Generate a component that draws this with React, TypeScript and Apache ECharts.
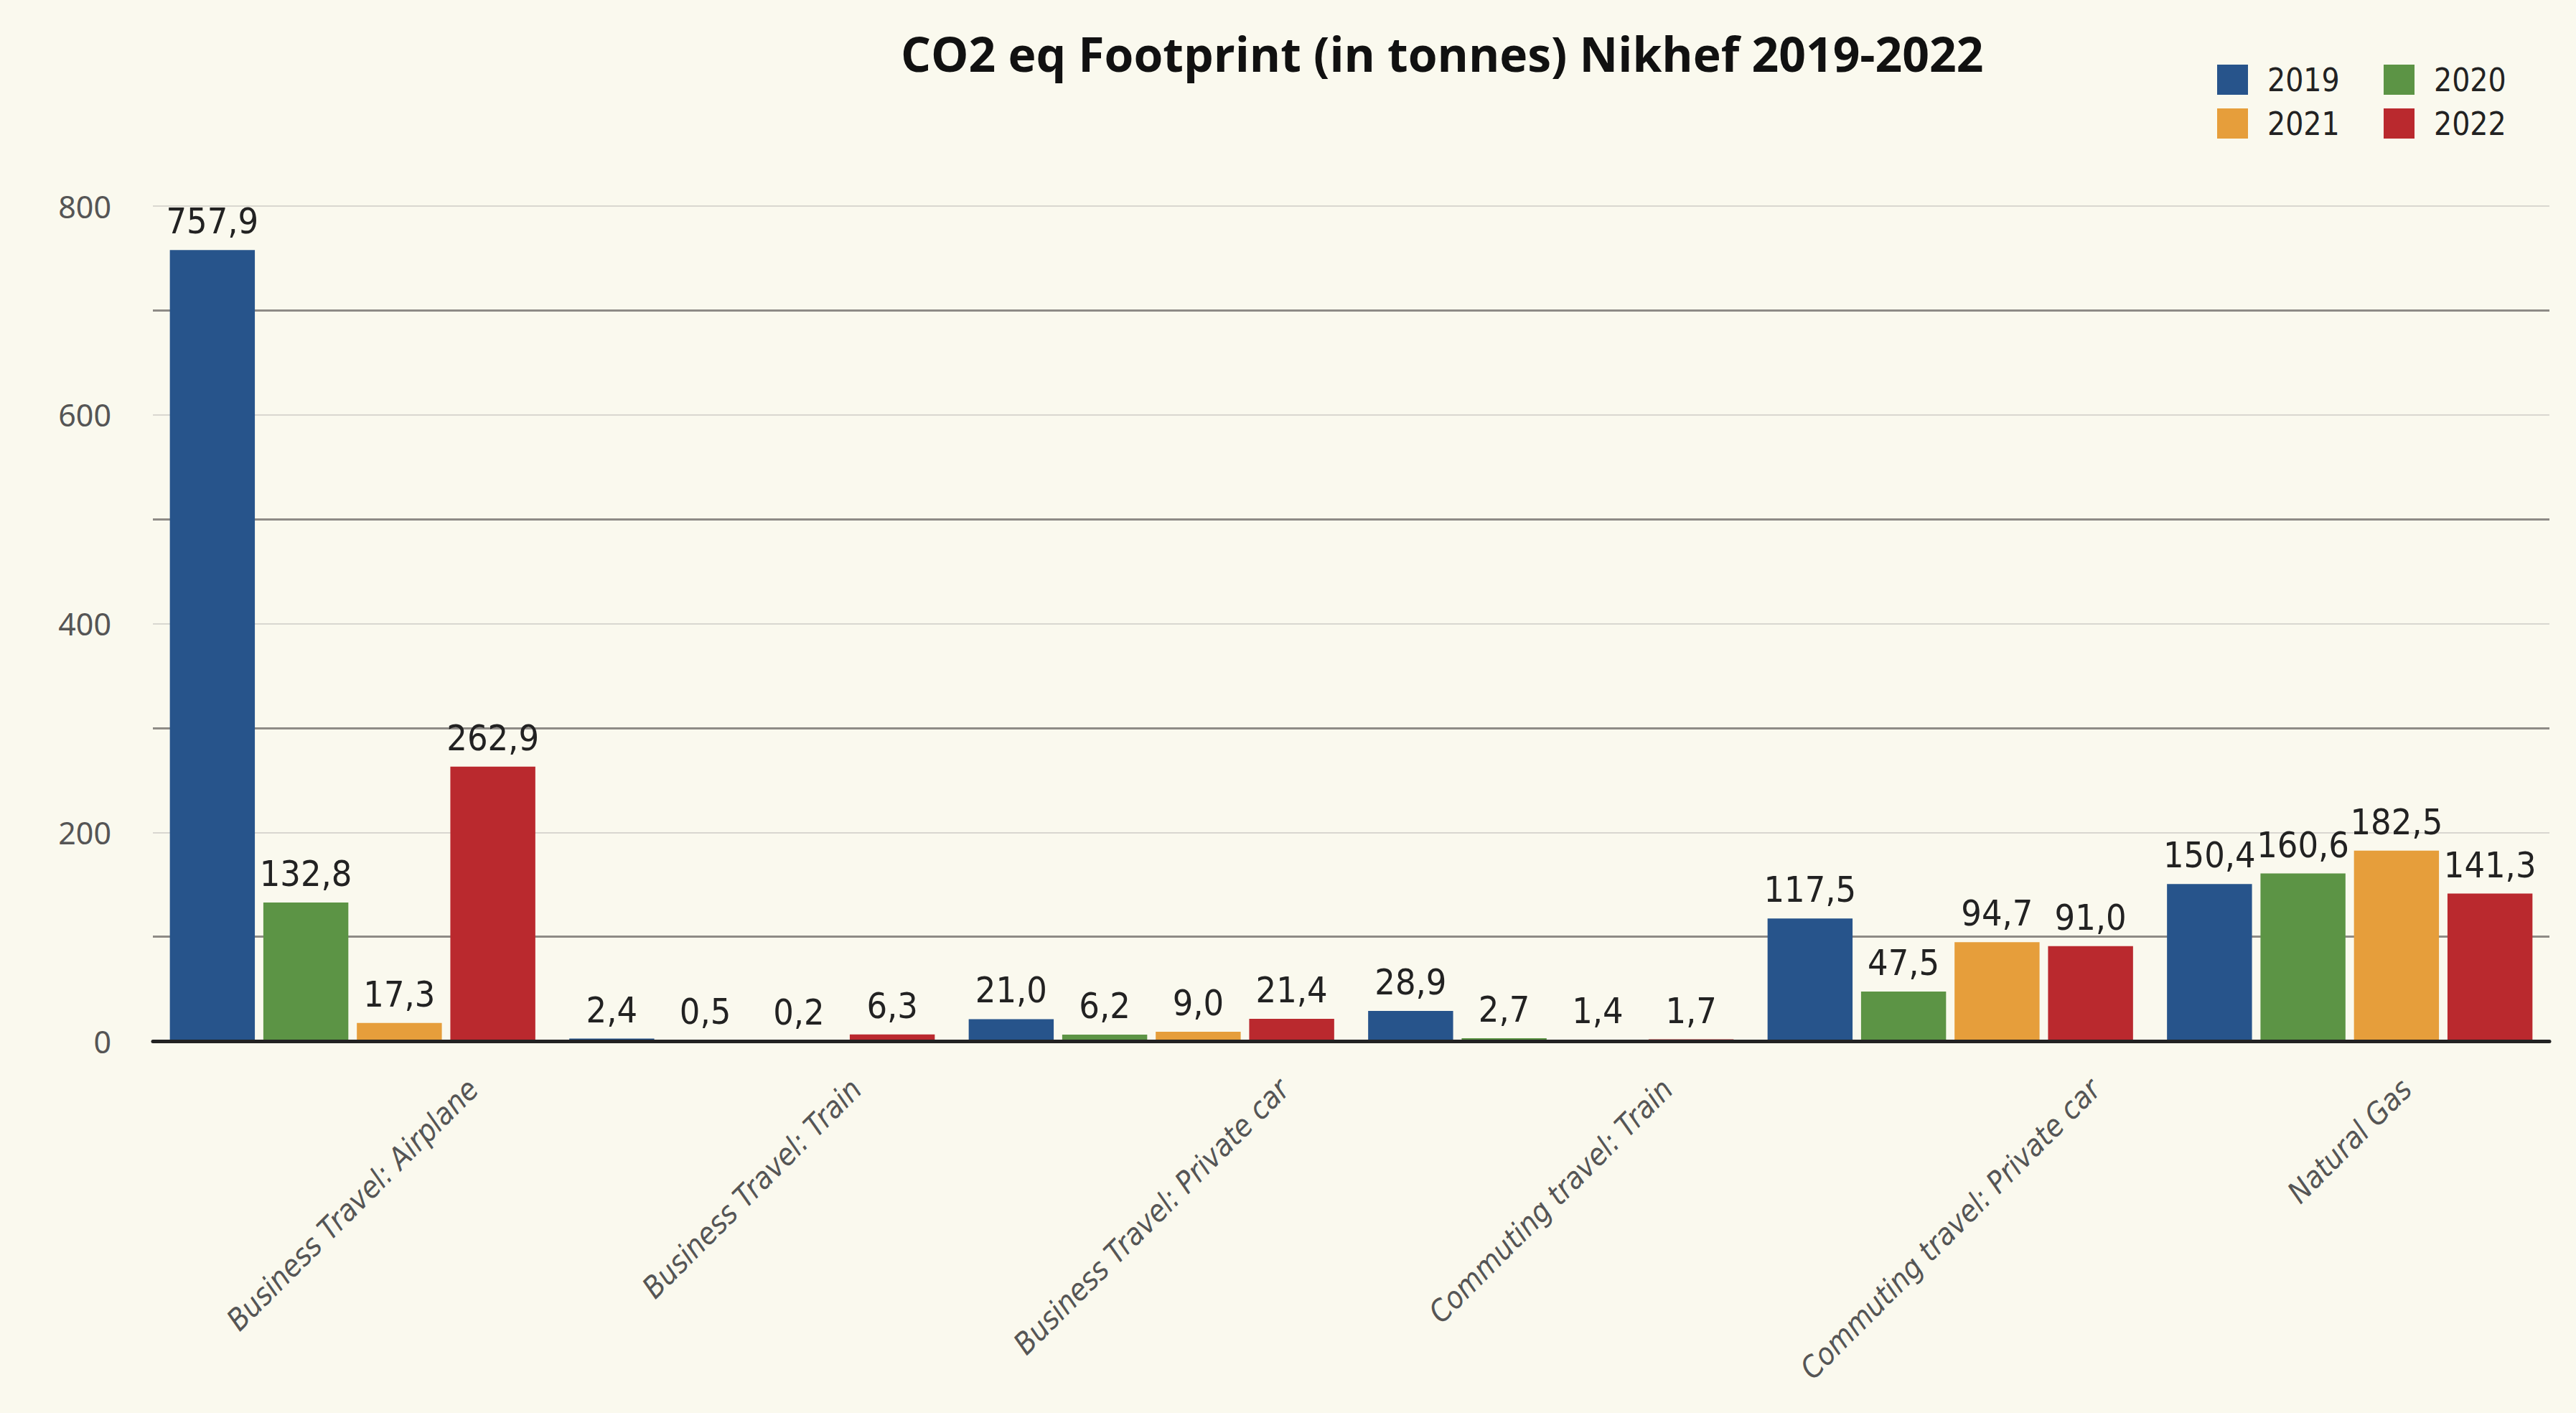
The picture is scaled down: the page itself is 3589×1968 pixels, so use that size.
import React, { useEffect, useRef } from "react";
import * as echarts from "echarts";

const categories = [
  "Business Travel: Airplane",
  "Business Travel: Train",
  "Business Travel: Private car",
  "Commuting travel: Train",
  "Commuting travel: Private car",
  "Natural Gas",
];
const seriesNames = ["2019", "2020", "2021", "2022"];
const values2019 = [757.9, 2.4, 21.0, 28.9, 117.5, 150.4];
const values2020 = [132.8, 0.5, 6.2, 2.7, 47.5, 160.6];
const values2021 = [17.3, 0.2, 9.0, 1.4, 94.7, 182.5];
const values2022 = [262.9, 6.3, 21.4, 1.7, 91.0, 141.3];
const yMin = 0;
const yMax = 800;
const yLabelStep = 200;
const yGridStep = 100;
const titleText = "CO2 eq Footprint (in tonnes) Nikhef 2019-2022";

const colors = ["#27548B", "#5C9445", "#E69E3B", "#BA292E"];
const bg = "#FAF9EE";
const condensed = '"DejaVu Sans Condensed", "DejaVu Sans", sans-serif';
const catFontSize = 42;

function measure(text: string, font: string): number {
  const c = document.createElement("canvas").getContext("2d");
  if (!c) return text.length * catFontSize * 0.5;
  c.font = font;
  return c.measureText(text).width;
}

export default function App() {
  const ref = useRef<HTMLDivElement>(null);
  useEffect(() => {
    if (!ref.current) return;
    const chart = echarts.init(ref.current, undefined, { renderer: "svg" });
    const allValues = [values2019, values2020, values2021, values2022];
    const rich: Record<string, any> = {};
    categories.forEach((c, i) => {
      const L = measure(c, `italic ${catFontSize}px ${condensed}`);
      rich["c" + i] = {
        padding: [L / 2, L / 2, 0, 0],
        fontSize: catFontSize,
        fontStyle: "italic",
        fontFamily: condensed,
        color: "#555",
      };
    });
    const legendCommon = {
      orient: "vertical",
      top: 84,
      itemWidth: 43,
      itemHeight: 42,
      itemGap: 17,
      icon: "rect",
      selectedMode: false,
      textStyle: {
        fontSize: 44,
        fontFamily: condensed,
        color: "#222",
        padding: [0, 0, 0, 22],
      },
    };
    chart.setOption({
      animation: false,
      backgroundColor: bg,
      title: {
        text: titleText,
        left: 1250,
        top: 36,
        textStyle: {
          fontFamily: '"Open Sans", sans-serif',
          fontWeight: "bold",
          fontSize: 66,
          color: "#111",
        },
      },
      legend: [
        { ...legendCommon, left: 3084, data: ["2019", "2021"] },
        { ...legendCommon, left: 3316, data: ["2020", "2022"] },
      ],
      grid: {
        left: 213,
        right: 37,
        top: 287,
        bottom: 518,
        containLabel: false,
        outerBoundsMode: "none",
      },
      xAxis: {
        type: "category",
        data: categories,
        z: 5,
        axisLine: { show: true, lineStyle: { color: "#222", width: 5 } },
        axisTick: { show: false },
        axisLabel: {
          interval: 0,
          rotate: 45,
          align: "center",
          verticalAlign: "middle",
          margin: 60,
          formatter: (v: string, i: number) => `{c${i}|${v}}`,
          rich,
        },
      },
      yAxis: [
        {
          type: "value",
          min: yMin,
          max: yMax,
          interval: yLabelStep,
          axisLine: { show: false },
          axisTick: { show: false },
          axisLabel: {
            fontSize: 43,
            fontFamily: '"Noto Sans", sans-serif',
            color: "#555",
            margin: 58,
          },
          splitLine: { show: true, lineStyle: { color: "#d9d7d0", width: 2 } },
        },
        {
          type: "value",
          min: yMin,
          max: yMax,
          interval: yGridStep,
          axisLine: { show: false },
          axisTick: { show: false },
          axisLabel: { show: false },
          splitLine: {
            show: true,
            lineStyle: { color: ["rgba(0,0,0,0)", "#8e8b86"], width: 3 },
          },
        },
      ],
      series: seriesNames.map((name, k) => ({
        name,
        type: "bar",
        yAxisIndex: 0,
        data: allValues[k],
        barGap: "10%",
        barCategoryGap: "8.5%",
        itemStyle: { color: colors[k] },
        label: {
          show: true,
          position: "top",
          distance: 15,
          fontFamily: condensed,
          fontSize: 50,
          color: "#222",
          formatter: (p: any) => Number(p.value).toFixed(1).replace(".", ","),
        },
      })),
    });
    return () => chart.dispose();
  }, []);
  return (
    <div
      ref={ref}
      style={{
        position: "absolute",
        left: 0,
        top: 0,
        width: 3589,
        height: 1968,
        background: bg,
      }}
    />
  );
}
